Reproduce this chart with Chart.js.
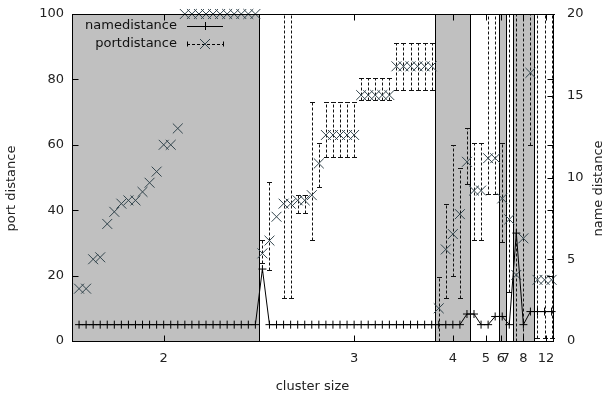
<!DOCTYPE html>
<html>
<head>
<meta charset="utf-8">
<script src="https://cdn.jsdelivr.net/npm/chart.js@4.4.1/dist/chart.umd.min.js"></script>
<style>
  html, body { margin: 0; padding: 0; background: #fff; }
</style>
</head>
<body>
<canvas id="chart" width="613" height="398"></canvas>
<script>
// cluster sizes on the x axis (positions are point indices)
const clusterLabels = ['2', '3', '4', '5', '6', '7', '8', '12'];
const clusterTicks = [13, 40, 54, 58.7, 60.8, 61.5, 64, 67.2];
const clusterEdges = [0, 26.5, 51.5, 56.5, 60.5, 61.5, 62.5, 65.5, 68.2];

const pointIdx = [
  1, 2, 3, 4, 5, 6, 7, 8, 9, 10, 11, 12, 13, 14, 15, 16, 17, 18, 19, 20, 21, 22, 23, 24, 25, 26,
  27, 28, 29, 30, 31, 32, 33, 34, 35, 36, 37, 38, 39, 40, 41, 42, 43, 44, 45, 46, 47, 48, 49, 50, 51,
  52, 53, 54, 55, 56, 57, 58, 59, 60, 61, 62, 63, 64, 65, 66, 67, 68
];

// right axis
const nameDist = [
  1, 1, 1, 1, 1, 1, 1, 1, 1, 1, 1, 1, 1, 1, 1, 1, 1, 1, 1, 1, 1, 1, 1, 1, 1, 1,
  4.4, 1, 1, 1, 1, 1, 1, 1, 1, 1, 1, 1, 1, 1, 1, 1, 1, 1, 1, 1, 1, 1, 1, 1, 1,
  1, 1, 1, 1, 1.65, 1.65, 1, 1, 1.5, 1.5, 1, 6.6, 1, 1.8, 1.8, 1.8, 1.8
];

// left axis
const portDist = [
  16, 16, 25, 25.6, 35.8, 39.5, 42, 43, 43, 45.6, 48.4, 51.8, 60, 60, 65,
  100, 100, 100, 100, 100, 100, 100, 100, 100, 100, 100,
  26.8, 30.7, 38, 42, 42, 43, 43, 44.6, 54.3, 63, 63, 63, 63, 63,
  75.2, 75.2, 75.2, 75.2, 75.2, 84, 84, 84, 84, 84, 84,
  10, 28, 32.7, 38.8, 54.8, 46, 46, 55.9, 55.9, 43.6, 37.2, 20.2, 31.4, 82,
  18.7, 18.7, 18.7
];
const portLow = [
  null, null, null, null, null, null, null, null, null, null, null, null, null, null, null,
  null, null, null, null, null, null, null, null, null, null, null,
  24, 21.7, null, 13, 13, 39, 39, 31, 47, 56.4, 56.4, 56.4, 56.4, 56.4,
  73.7, 73.7, 73.7, 73.7, 73.7, 76.8, 76.8, 76.8, 76.8, 76.8, 76.8,
  0, 13, 20, 13, 48, 31, 31, 45, 45, 30.4, 15, 0, 0, 60,
  1, 1, 1
];
const portHigh = [
  null, null, null, null, null, null, null, null, null, null, null, null, null, null, null,
  null, null, null, null, null, null, null, null, null, null, null,
  31, 48.7, null, 100, 100, 44.6, 44.6, 73, 60.5, 73.2, 73.2, 73.2, 73.2, 73.2,
  80.4, 80.4, 80.4, 80.4, 80.4, 91, 91, 91, 91, 91, 91,
  19.5, 42, 60, 53, 65, 60.5, 60.5, 100, 100, 60.5, 100, 100, 100, 100,
  100, 100, 100
];

const yTitle = 'port distance';
const y2Title = 'name distance';
const xTitle = 'cluster size';

const FONT = 'DejaVu Sans';
const INK = '#000';
const PORT_COLOR = '#33454d';

function crisp(v) { return Math.round(v) + 0.5; }

function sideTitle(ctx, text, cx, cy) {
  ctx.save();
  ctx.fillStyle = '#222';
  ctx.font = '13px "' + FONT + '"';
  ctx.textAlign = 'center';
  ctx.textBaseline = 'middle';
  ctx.translate(cx, cy);
  ctx.rotate(-Math.PI / 2);
  ctx.fillText(text, 0, 0);
  ctx.restore();
}

const gnuFrame = {
  id: 'gnuFrame',
  beforeDatasetsDraw(chart) {
    const { ctx, chartArea: a, scales: { x, y } } = chart;
    ctx.save();
    // alternating cluster boxes
    for (let k = 0; k < clusterEdges.length - 1; k++) {
      const x0 = x.getPixelForValue(clusterEdges[k]);
      const x1 = x.getPixelForValue(clusterEdges[k + 1]);
      if (k % 2 === 0) {
        ctx.fillStyle = '#c0c0c0';
        ctx.fillRect(Math.round(x0), a.top, Math.round(x1) - Math.round(x0), a.bottom - a.top);
      }
    }
    ctx.strokeStyle = INK;
    ctx.lineWidth = 1;
    for (let k = 1; k < clusterEdges.length - 1; k++) {
      const px = crisp(x.getPixelForValue(clusterEdges[k]));
      ctx.beginPath();
      ctx.moveTo(px, a.top);
      ctx.lineTo(px, a.bottom);
      ctx.stroke();
    }
    // error bars of portdistance
    ctx.strokeStyle = '#111';
    pointIdx.forEach((v, i) => {
      if (portLow[i] === null) return;
      const px = crisp(x.getPixelForValue(v));
      const p0 = crisp(y.getPixelForValue(portLow[i]));
      const p1 = crisp(y.getPixelForValue(portHigh[i]));
      ctx.setLineDash([3, 2]);
      ctx.beginPath();
      ctx.moveTo(px, p0);
      ctx.lineTo(px, p1);
      ctx.stroke();
      ctx.setLineDash([]);
      ctx.beginPath();
      ctx.moveTo(px - 2.5, p0); ctx.lineTo(px + 2.5, p0);
      ctx.moveTo(px - 2.5, p1); ctx.lineTo(px + 2.5, p1);
      ctx.stroke();
    });
    ctx.restore();
  },
  afterDatasetsDraw(chart) {
    const { ctx, chartArea: a, scales: { x, y, y2 } } = chart;
    ctx.save();
    ctx.strokeStyle = INK;
    ctx.lineWidth = 1;
    const L = crisp(a.left), R = crisp(a.right), T = crisp(a.top), B = crisp(a.bottom);
    ctx.strokeRect(L, T, R - L, B - T);
    const tl = 6;
    ctx.beginPath();
    clusterTicks.forEach(v => {
      const px = crisp(x.getPixelForValue(v));
      ctx.moveTo(px, B); ctx.lineTo(px, B - tl);
      ctx.moveTo(px, T); ctx.lineTo(px, T + tl);
    });
    y.ticks.forEach(t => {
      const py = crisp(y.getPixelForValue(t.value));
      ctx.moveTo(L, py); ctx.lineTo(L + tl, py);
      ctx.moveTo(R, py); ctx.lineTo(R - tl, py);
    });
    y2.ticks.forEach(t => {
      const py = crisp(y2.getPixelForValue(t.value));
      ctx.moveTo(R, py); ctx.lineTo(R - tl, py);
    });
    ctx.stroke();
    ctx.restore();

    // axis titles on both sides, reading upwards
    const midY = (a.top + a.bottom) / 2 + 11;
    sideTitle(ctx, yTitle, 12, midY);
    sideTitle(ctx, y2Title, a.right + 46, midY);

    // legend
    ctx.save();
    ctx.font = '13px "' + FONT + '"';
    ctx.fillStyle = '#111';
    ctx.textAlign = 'right';
    ctx.textBaseline = 'middle';
    const tx = a.left + 105, s0 = a.left + 115, s1 = a.left + 151, sc = (s0 + s1) / 2;
    const r1 = a.top + 12, r2 = a.top + 30;
    const ds = chart.data.datasets;
    ctx.fillText(ds[0].label, tx, r1);
    ctx.fillText(ds[1].label, tx, r2);
    ctx.strokeStyle = INK;
    ctx.lineWidth = 1;
    ctx.beginPath();
    ctx.moveTo(s0, crisp(r1)); ctx.lineTo(s1, crisp(r1));
    ctx.moveTo(crisp(sc), r1 - 4); ctx.lineTo(crisp(sc), r1 + 4);
    ctx.stroke();
    ctx.setLineDash([3, 2]);
    ctx.beginPath();
    ctx.moveTo(s0, crisp(r2)); ctx.lineTo(s1, crisp(r2));
    ctx.stroke();
    ctx.setLineDash([]);
    ctx.beginPath();
    ctx.moveTo(crisp(s0), r2 - 2.5); ctx.lineTo(crisp(s0), r2 + 2.5);
    ctx.moveTo(crisp(s1), r2 - 2.5); ctx.lineTo(crisp(s1), r2 + 2.5);
    ctx.stroke();
    ctx.strokeStyle = PORT_COLOR;
    ctx.beginPath();
    ctx.moveTo(sc - 5, r2 - 5); ctx.lineTo(sc + 5, r2 + 5);
    ctx.moveTo(sc - 5, r2 + 5); ctx.lineTo(sc + 5, r2 - 5);
    ctx.stroke();
    ctx.restore();
  }
};

const tickFont = { family: FONT, size: 13 };

function noVPad(s) { s.paddingTop = 0; s.paddingBottom = 0; }

new Chart(document.getElementById('chart').getContext('2d'), {
  type: 'scatter',
  data: {
    datasets: [
      {
        label: 'namedistance',
        data: pointIdx.map((v, i) => ({ x: v, y: nameDist[i] })),
        yAxisID: 'y2',
        showLine: true,
        borderColor: INK,
        borderWidth: 1,
        pointStyle: 'cross',
        pointRadius: 4,
        pointBorderColor: INK,
        pointBorderWidth: 1,
        clip: false
      },
      {
        label: 'portdistance',
        data: pointIdx.map((v, i) => ({ x: v, y: portDist[i] })),
        yAxisID: 'y',
        showLine: false,
        pointStyle: 'crossRot',
        pointRadius: 7,
        pointBorderColor: PORT_COLOR,
        pointBorderWidth: 1,
        clip: false
      }
    ]
  },
  options: {
    responsive: false,
    animation: false,
    devicePixelRatio: 1,
    layout: { padding: { top: 14, left: 0, right: 0, bottom: 0 } },
    plugins: { legend: { display: false }, tooltip: { enabled: false } },
    scales: {
      x: {
        type: 'linear',
        bounds: 'data',
        min: 0,
        max: 68.2,
        afterBuildTicks: s => { s.ticks = clusterTicks.map(v => ({ value: v })); },
        ticks: {
          autoSkip: false, maxRotation: 0, padding: 10, color: '#222', font: tickFont,
          callback: (v, i) => clusterLabels[i]
        },
        grid: { display: false, drawTicks: false },
        border: { display: false },
        title: { display: true, text: xTitle, color: '#222', font: tickFont },
        afterFit: s => { s.height = 57; s.paddingLeft = 0; s.paddingRight = 0; }
      },
      y: {
        position: 'left',
        min: 0,
        max: 100,
        ticks: { stepSize: 20, padding: 8, color: '#222', font: tickFont },
        grid: { display: false, drawTicks: false },
        border: { display: false },
        afterFit: s => { s.width = 72; noVPad(s); }
      },
      y2: {
        position: 'right',
        min: 0,
        max: 20,
        ticks: { stepSize: 5, padding: 14, color: '#222', font: tickFont },
        grid: { display: false, drawTicks: false },
        border: { display: false },
        afterFit: s => { s.width = 60; noVPad(s); }
      }
    }
  },
  plugins: [gnuFrame]
});
</script>
</body>
</html>
